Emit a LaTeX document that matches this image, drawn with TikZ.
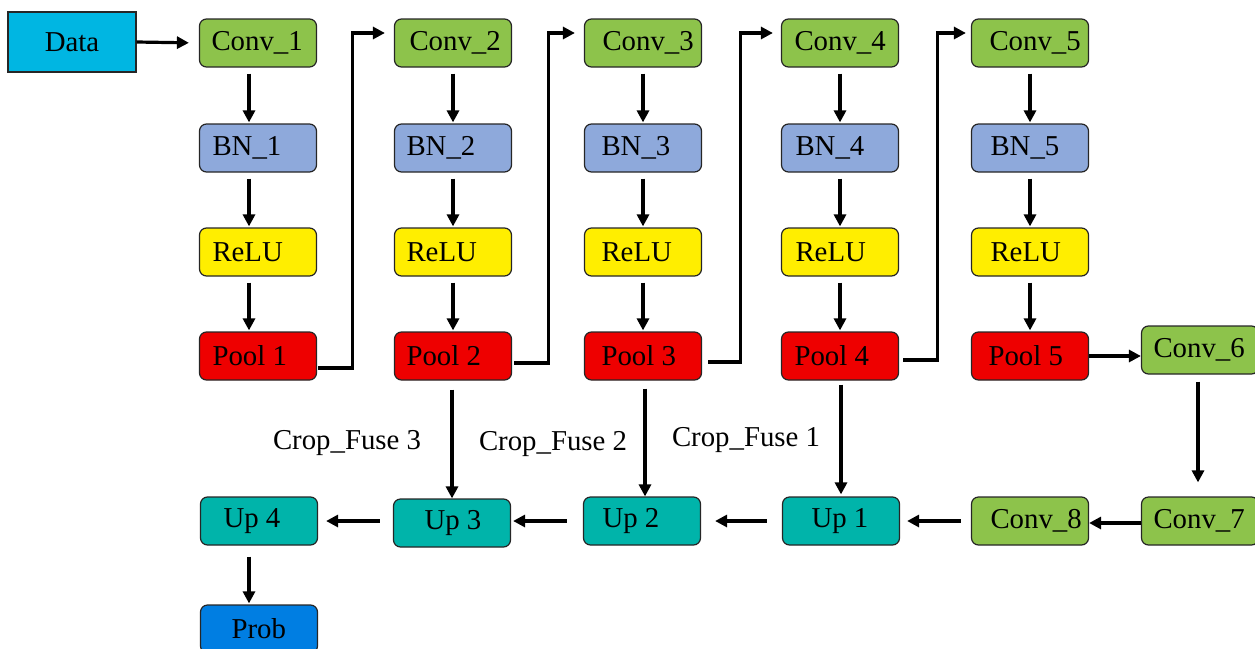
\documentclass[tikz,border=0pt]{standalone}
\usepackage{fontspec}
\setmainfont{Liberation Serif}
\usetikzlibrary{arrows.meta}
\definecolor{cgreen}{RGB}{141,195,75}
\definecolor{cblue}{RGB}{142,169,219}
\definecolor{cyellow}{RGB}{255,238,0}
\definecolor{cred}{RGB}{238,0,0}
\definecolor{cteal}{RGB}{0,180,170}
\definecolor{cprob}{RGB}{0,126,226}
\definecolor{cdata}{RGB}{0,182,226}
\newcommand{\ins}[1]{\hspace*{#1pt}}
\begin{document}
\begin{tikzpicture}[x=1pt,y=-1pt,
  box/.style={draw=black!85, line width=1.2pt, rounded corners=7pt, text width=117pt, align=flush left, inner xsep=0pt, minimum height=48pt, inner ysep=0pt, font=\fontsize{28.8}{32}\selectfont},
  databox/.style={draw=black!85, line width=1.2pt, minimum width=128pt, minimum height=60pt, inner sep=0pt, fill=cdata, font=\fontsize{28.8}{32}\selectfont},
  lbl/.style={font=\fontsize{28.8}{32}\selectfont, inner sep=0pt},
  arr/.style={line width=3.2pt, -{Triangle[length=12pt,width=12pt]}}]
\useasboundingbox (0,0) rectangle (1255,648);
\clip (0,0) rectangle (1255,648);
\node[databox] (data) at (72,42) {Data};
\foreach \i/\x/\a/\b/\c/\d in {1/258/12/13/13/13, 2/453/15/12/12/12, 3/643/18/17/17/17, 4/840/13/14/14/13, 5/1030/18/19/19/17}{
  \node[box, fill=cgreen] (c\i) at (\x,43) {\ins{\a}Conv\_\i};
  \node[box, fill=cblue] (b\i) at (\x,148) {\ins{\b}BN\_\i};
  \node[box, fill=cyellow] (r\i) at (\x,252) {\ins{\c}ReLU};
  \node[box, fill=cred] (p\i) at (\x,356) {\ins{\d}Pool \i};
}
\node[box, fill=cgreen] (c6) at (1200,350) {\ins{12}Conv\_6};
\node[box, fill=cgreen] (c7) at (1200,521) {\ins{12}Conv\_7};
\node[box, fill=cgreen] (c8) at (1030,521) {\ins{19}Conv\_8};
\node[box, fill=cteal] (u1) at (841,521) {\ins{29}Up 1};
\node[box, fill=cteal] (u2) at (642,521) {\ins{19}Up 2};
\node[box, fill=cteal] (u3) at (452,523) {\ins{31}Up 3};
\node[box, fill=cteal] (u4) at (259,521) {\ins{23}Up 4};
\node[box, fill=cprob] (prob) at (259,629) {\ins{31}Prob};
\node[lbl] (f3) at (347,443) {Crop\_Fuse 3};
\node[lbl] (f2) at (553,444) {Crop\_Fuse 2};
\node[lbl] (f1) at (746,440) {Crop\_Fuse 1};
% input
\draw[arr, shorten >=10pt] (data.east) -- (c1.west);
% column arrows
\foreach \i/\s in {1/-9,2/0,3/0,4/0,5/0}{
  \draw[arr, shorten <=6pt, shorten >=1pt] ([xshift=\s pt]c\i.south) -- ([xshift=\s pt]b\i.north);
  \draw[arr, shorten <=6pt, shorten >=1pt] ([xshift=\s pt]b\i.south) -- ([xshift=\s pt]r\i.north);
  \draw[arr, shorten <=6pt, shorten >=1pt] ([xshift=\s pt]r\i.south) -- ([xshift=\s pt]p\i.north);
}
% pool to next conv
\draw[arr, shorten >=9pt, shorten <=1pt] ([yshift=-12pt]p1.east) -- ++(35,0) |- ([yshift=10pt]c2.west);
\draw[arr, shorten >=9pt, shorten <=2pt] ([yshift=-7pt]p2.east) -- ++(36,0) |- ([yshift=10pt]c3.west);
\draw[arr, shorten >=8pt, shorten <=6pt] ([yshift=-6pt]p3.east) -- ++(38,0) |- ([yshift=10pt]c4.west);
\draw[arr, shorten >=5pt, shorten <=4pt] ([yshift=-4pt]p4.east) -- ++(38,0) |- ([yshift=10pt]c5.west);
\draw[arr] (p5.east) -- (c6.west |- p5.east);
\draw[arr, shorten <=7pt, shorten >=14pt] ([xshift=-2pt]c6.south) -- ([xshift=-2pt]c7.north);
\draw[arr] ([yshift=-2pt]c7.west) -- ([yshift=-2pt]c8.east);
% decoder
\draw[arr, shorten <=10pt, shorten >=7pt] (c8.west) -- (u1.east);
\draw[arr, shorten <=15pt, shorten >=14pt] (u1.west) -- (u2.east);
\draw[arr, shorten <=16pt, shorten >=2pt] (u2.west) -- (u3.east |- u2.west);
\draw[arr, shorten <=13pt, shorten >=8pt] (u3.west |- u4.east) -- (u4.east);
\draw[arr, shorten <=11pt, shorten >=1pt] ([xshift=-10pt]u4.south) -- ([xshift=-10pt]prob.north);
% crop fuse
\draw[arr, shorten <=9pt] ([xshift=-1pt]p2.south) -- ([xshift=-1pt]p2.south |- u3.north);
\draw[arr, shorten <=8pt] ([xshift=2pt]p3.south) -- ([xshift=2pt]p3.south |- u2.north);
\draw[arr, shorten <=4pt, shorten >=2pt] ([xshift=1pt]p4.south) -- ([xshift=1pt]p4.south |- u1.north);
\end{tikzpicture}
\end{document}
